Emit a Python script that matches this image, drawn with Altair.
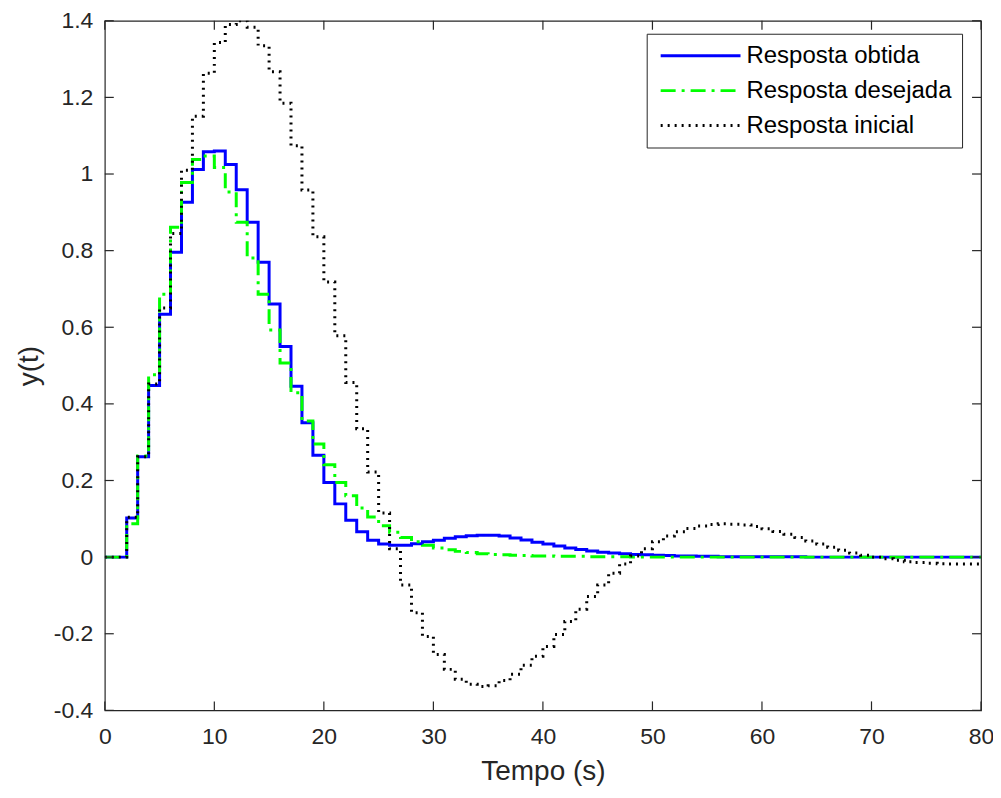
import altair as alt
import pandas as pd

t = list(range(0, 81))

obtida = [0, 0, 0.102, 0.262, 0.448, 0.634, 0.796, 0.926, 1.012, 1.058,
          1.060, 1.025, 0.959, 0.874, 0.770, 0.661, 0.550, 0.446, 0.351, 0.266,
          0.195, 0.139, 0.096, 0.066, 0.044, 0.034, 0.031, 0.031, 0.035, 0.040,
          0.044, 0.049, 0.053, 0.056, 0.057, 0.057, 0.055, 0.050, 0.045, 0.039,
          0.034, 0.029, 0.024, 0.020, 0.016, 0.013, 0.011, 0.009, 0.007, 0.006,
          0.005, 0.004, 0.003, 0.003, 0.002, 0.002, 0.001, 0.001, 0.001, 0.001,
          0.001, 0.001, 0.001, 0.001, 0.0, 0.0, 0.0, 0.0, 0.0, 0.0,
          0.0, 0.0, 0.0, 0.0, 0.0, 0.0, 0.0, 0.0, 0.0, 0.0, 0.0]

desejada = [0, 0, 0.087, 0.264, 0.476, 0.686, 0.861, 0.978, 1.038, 1.047,
            1.017, 0.953, 0.874, 0.781, 0.686, 0.593, 0.507, 0.429, 0.355, 0.295,
            0.241, 0.195, 0.160, 0.128, 0.105, 0.082, 0.065, 0.051, 0.040, 0.031,
            0.024, 0.019, 0.015, 0.012, 0.009, 0.007, 0.006, 0.005, 0.004, 0.003,
            0.003, 0.002, 0.002, 0.002, 0.001, 0.001, 0.001, 0.001, 0.0, 0.0,
            0.0, 0.0, 0.0, 0.0, 0.0, 0.0, 0.0, 0.0, 0.0, 0.0,
            0.0, 0.0, 0.0, 0.0, 0.0, 0.0, 0.0, 0.0, 0.0, 0.0,
            0.0, 0.0, 0.0, 0.0, 0.0, 0.0, 0.0, 0.0, 0.0, 0.0, 0.0]

inicial = [0, 0, 0.104, 0.262, 0.452, 0.650, 0.845, 1.010, 1.151, 1.263,
           1.343, 1.390, 1.400, 1.383, 1.335, 1.267, 1.185, 1.074, 0.958, 0.836,
           0.718, 0.578, 0.456, 0.335, 0.222, 0.115, 0.022, -0.073, -0.145, -0.207,
           -0.254, -0.293, -0.319, -0.332, -0.338, -0.336, -0.322, -0.306, -0.282, -0.259,
           -0.233, -0.202, -0.168, -0.136, -0.103, -0.073, -0.042, -0.018, 0.003, 0.022,
           0.040, 0.055, 0.066, 0.075, 0.081, 0.085, 0.087, 0.086, 0.084, 0.080,
           0.074, 0.067, 0.060, 0.051, 0.042, 0.034, 0.026, 0.018, 0.011, 0.005,
           0.000, -0.004, -0.008, -0.012, -0.014, -0.016, -0.017, -0.018, -0.018, -0.018, -0.018]

series_names = ["Resposta obtida", "Resposta desejada", "Resposta inicial"]
series_colors = ["#0000ff", "#00ff00", "#000000"]
x_ticks = [0, 10, 20, 30, 40, 50, 60, 70, 80]
y_ticks = [-0.4, -0.2, 0, 0.2, 0.4, 0.6, 0.8, 1.0, 1.2, 1.4]

rows = []
for name, vals in zip(series_names, [obtida, desejada, inicial]):
    for ti, v in zip(t, vals):
        rows.append({"t": ti, "y": v, "series": name})
df = pd.DataFrame(rows)

W, H = 878, 691
AX = "#262626"
FONT = "Liberation Sans"

xscale = alt.Scale(domain=[0, 80], nice=False, zero=False)
yscale = alt.Scale(domain=[-0.4, 1.4], nice=False, zero=False)

x_axis = alt.Axis(
    values=x_ticks, title="Tempo (s)", ticks=False, domain=False, grid=False,
    labelFlush=False, labelPadding=15, labelFont=FONT, labelFontSize=23,
    labelColor=AX, titleFont=FONT, titleFontSize=28, titleColor=AX,
    titleFontWeight="normal", titlePadding=9, format="d")
y_axis = alt.Axis(
    values=y_ticks, title="y(t)", ticks=False, domain=False, grid=False,
    labelFlush=False, labelPadding=12, labelFont=FONT, labelFontSize=23,
    labelColor=AX, titleFont=FONT, titleFontSize=28, titleColor=AX,
    titleFontWeight="normal", titlePadding=10,
    labelExpr="datum.value < 0 ? '-' + format(-datum.value, '~g') : format(datum.value, '~g')")

legend = alt.Legend(
    title=None, orient="none", legendX=543, legendY=13,
    symbolType="M-5,0H5", symbolSize=256, symbolOffset=32,
    labelOffset=34, labelFont=FONT, labelFontSize=24, labelColor="black",
    strokeColor=AX, fillColor="white", padding=10, rowPadding=11,
    cornerRadius=0, labelLimit=500, symbolFillColor="transparent",
)

lines = alt.Chart(df).mark_line(
    interpolate="step-after", clip=True, strokeCap="butt", strokeJoin="miter"
).encode(
    x=alt.X("t:Q", scale=xscale, axis=x_axis),
    y=alt.Y("y:Q", scale=yscale, axis=y_axis),
    color=alt.Color("series:N", scale=alt.Scale(domain=series_names, range=series_colors),
                    legend=legend, sort=series_names),
    strokeDash=alt.StrokeDash("series:N", scale=alt.Scale(domain=series_names,
                              range=[[1, 0], [15, 6, 3, 6], [2, 5]]), legend=legend, sort=series_names),
    strokeWidth=alt.StrokeWidth("series:N", scale=alt.Scale(domain=series_names,
                                range=[3, 3, 1.6]), legend=legend, sort=series_names),
)

xt = pd.DataFrame({"v": x_ticks})
yt = pd.DataFrame({"v": y_ticks})
tick_style = dict(color=AX, strokeWidth=1.2)

bottom_ticks = alt.Chart(xt).mark_rule(**tick_style).encode(
    x=alt.X("v:Q", scale=xscale, axis=x_axis), y=alt.value(H), y2=alt.value(H - 9))
top_ticks = alt.Chart(xt).mark_rule(**tick_style).encode(
    x=alt.X("v:Q", scale=xscale, axis=x_axis), y=alt.value(0), y2=alt.value(9))
left_ticks = alt.Chart(yt).mark_rule(**tick_style).encode(
    y=alt.Y("v:Q", scale=yscale, axis=y_axis), x=alt.value(0), x2=alt.value(9))
right_ticks = alt.Chart(yt).mark_rule(**tick_style).encode(
    y=alt.Y("v:Q", scale=yscale, axis=y_axis), x=alt.value(W), x2=alt.value(W - 9))

chart = alt.layer(lines, bottom_ticks, top_ticks, left_ticks, right_ticks).properties(
    width=W, height=H,
    autosize=alt.AutoSizeParams(type="none"),
    padding={"left": 97, "top": 12, "right": 12, "bottom": 80},
    background="white",
).configure_view(stroke=AX, strokeWidth=1.2)

chart.save("out.html", embed_options={"renderer": "svg", "actions": False})
